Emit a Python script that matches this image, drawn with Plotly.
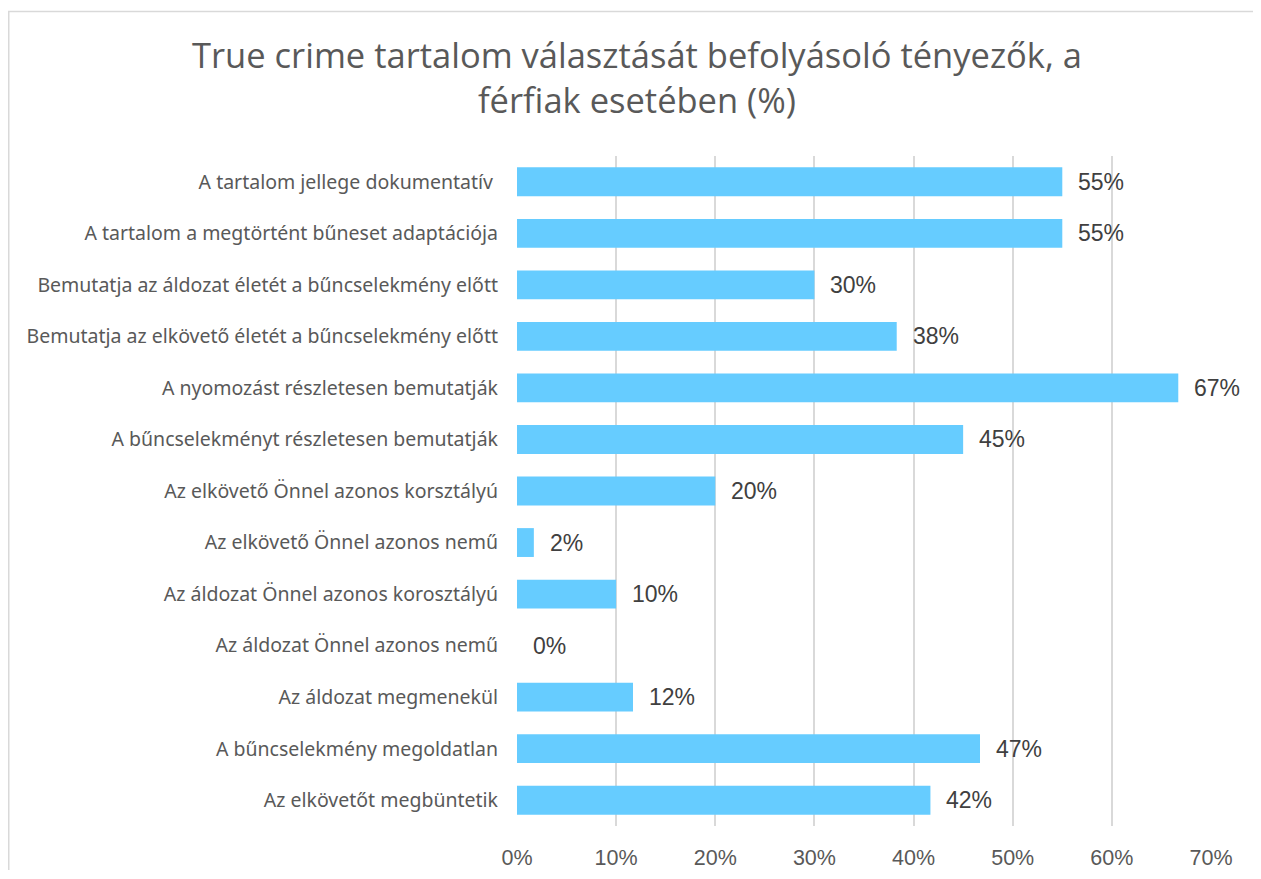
import plotly.graph_objects as go

categories = [
    "A tartalom jellege dokumentatív\u00a0",
    "A tartalom a megtörtént bűneset adaptációja",
    "Bemutatja az áldozat életét a bűncselekmény előtt",
    "Bemutatja az elkövető életét a bűncselekmény előtt",
    "A nyomozást részletesen bemutatják",
    "A bűncselekményt részletesen bemutatják",
    "Az elkövető Önnel azonos korsztályú",
    "Az elkövető Önnel azonos nemű",
    "Az áldozat Önnel azonos korosztályú",
    "Az áldozat Önnel azonos nemű",
    "Az áldozat megmenekül",
    "A bűncselekmény megoldatlan",
    "Az elkövetőt megbüntetik",
]
values = [55.0, 55.0, 30.0, 38.3, 66.7, 45.0, 20.0, 1.7, 10.0, 0.0, 11.7, 46.7, 41.7]
tick_vals = [0, 10, 20, 30, 40, 50, 60, 70]
tick_text = ["0%", "10%", "20%", "30%", "40%", "50%", "60%", "70%"]

# page body has an 8px margin; figure coordinates are page coordinates minus 8
W, H = 1245, 862
L, R, T, B = 509, 42, 148, 44
pw, ph = W - L - R, H - T - B

fig = go.Figure()
fig.add_trace(go.Bar(
    y=categories, x=values, orientation="h",
    marker=dict(color="#66CCFF", line=dict(width=0)),
    width=0.56, hoverinfo="skip",
))

for c, v in zip(categories, values):
    fig.add_annotation(
        x=v, y=c, xref="x", yref="y", text=f"{round(v)}%",
        showarrow=False, xanchor="left", xshift=14,
        font=dict(family="Liberation Sans, Arial", size=23, color="#404040"),
    )

fig.update_layout(
    width=W, height=H,
    margin=dict(l=L, r=R, t=T, b=B, autoexpand=False),
    paper_bgcolor="white", plot_bgcolor="white",
    showlegend=False,
    title=dict(
        text="True crime tartalom választását befolyásoló tényezők, a<br>férfiak esetében (%)",
        x=629 / W, xanchor="center", xref="container",
        y=1 - 60 / H, yanchor="top", yref="container",
        font=dict(family="Open Sans, Liberation Sans", size=34.5, color="#595959"),
    ),
    xaxis=dict(
        range=[0, 70], tickvals=tick_vals, ticktext=tick_text,
        showgrid=True, gridcolor="#d9d9d9", gridwidth=1.5,
        zeroline=False, showline=False, ticks="",
        ticklabelstandoff=16, automargin=False,
        tickfont=dict(family="Liberation Sans, Arial", size=21.5, color="#595959"),
        fixedrange=True,
    ),
    yaxis=dict(
        autorange="reversed", showgrid=False, zeroline=False, showline=False, ticks="",
        ticklabelstandoff=18, automargin=False,
        tickfont=dict(family="Noto Sans, Open Sans", size=19.5, color="#595959"),
        fixedrange=True,
    ),
    shapes=[
        dict(type="rect", xref="paper", yref="paper",
             x0=(0.75 - L) / pw, x1=(W + 20 - L) / pw,
             y0=-(B + 40) / ph, y1=1 + (T - 3.5) / ph,
             line=dict(color="#d9d9d9", width=1.5), fillcolor="rgba(0,0,0,0)", layer="below"),
    ],
)

fig.write_html("out.html")
